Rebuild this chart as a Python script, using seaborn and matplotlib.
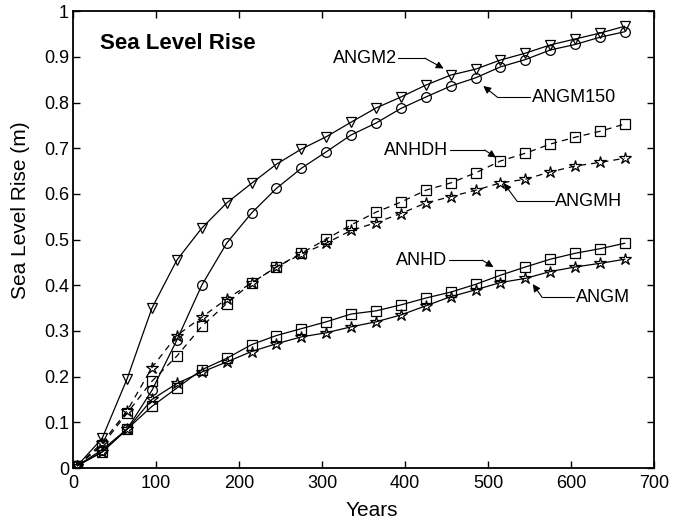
import matplotlib
matplotlib.use("Agg")
import matplotlib.pyplot as plt
import seaborn as sns
import numpy as np
import pandas as pd

years = [5, 35, 65, 95, 125, 155, 185, 215, 245, 275, 305, 335, 365, 395,
         425, 455, 485, 515, 545, 575, 605, 635, 665]

angm2 = [0.005, 0.065, 0.195, 0.35, 0.455, 0.525, 0.58, 0.623, 0.665, 0.698, 0.725,
         0.757, 0.788, 0.812, 0.838, 0.86, 0.873, 0.893, 0.908, 0.926, 0.939, 0.952, 0.967]
angm150 = [0.005, 0.04, 0.085, 0.17, 0.28, 0.40, 0.492, 0.558, 0.612, 0.656, 0.692,
           0.729, 0.755, 0.787, 0.812, 0.836, 0.854, 0.878, 0.894, 0.915, 0.927, 0.943, 0.955]
anhdh = [0.005, 0.05, 0.12, 0.19, 0.245, 0.31, 0.36, 0.405, 0.44, 0.47, 0.501,
         0.532, 0.56, 0.582, 0.608, 0.624, 0.646, 0.672, 0.689, 0.709, 0.724, 0.737, 0.753]
angmh = [0.005, 0.055, 0.125, 0.22, 0.29, 0.33, 0.37, 0.405, 0.44, 0.468, 0.492,
         0.52, 0.537, 0.557, 0.58, 0.594, 0.608, 0.624, 0.632, 0.648, 0.661, 0.669, 0.678]
anhd = [0.005, 0.035, 0.085, 0.135, 0.175, 0.215, 0.24, 0.27, 0.29, 0.305, 0.32,
        0.337, 0.344, 0.357, 0.372, 0.385, 0.402, 0.422, 0.44, 0.457, 0.47, 0.48, 0.492]
angm = [0.005, 0.035, 0.085, 0.15, 0.185, 0.21, 0.232, 0.255, 0.272, 0.287, 0.296,
        0.309, 0.32, 0.335, 0.355, 0.375, 0.39, 0.406, 0.415, 0.43, 0.44, 0.448, 0.457]

series = [
    ("ANGM2", angm2, "v", "-"),
    ("ANGM150", angm150, "o", "-"),
    ("ANHDH", anhdh, "s", (0, (5, 4))),
    ("ANGMH", angmh, "*", (0, (5, 4))),
    ("ANHD", anhd, "s", "-"),
    ("ANGM", angm, "*", "-"),
]

sns.set_style("ticks")
plt.rcParams["font.family"] = ["Liberation Sans", "DejaVu Sans"]
plt.rcParams["text.color"] = "black"
plt.rcParams["axes.labelcolor"] = "black"
plt.rcParams["xtick.color"] = "black"
plt.rcParams["ytick.color"] = "black"

fig = plt.figure(figsize=(6.77, 5.18), dpi=100)
ax = fig.add_axes([0.108, 0.0965, 0.858, 0.882])

for name, vals, mk, ls in series:
    ms = 9 if mk == "*" else 7
    sns.lineplot(x=years, y=vals, ax=ax, color="black", linewidth=0.9,
                 linestyle=ls, marker=mk, markersize=ms, markerfacecolor="none",
                 markeredgecolor="black", markeredgewidth=0.9)

ax.set_xlim(0, 700)
ax.set_ylim(0, 1)
ax.set_xticks(np.arange(0, 701, 100))
ax.set_yticks(np.arange(0, 1.01, 0.1))
ax.set_yticklabels(["0", "0.1", "0.2", "0.3", "0.4", "0.5", "0.6", "0.7", "0.8", "0.9", "1"])
ax.tick_params(direction="in", top=True, right=True, labelsize=13, length=5, width=1,
               colors="black")
ax.tick_params(axis="x", pad=5)
ax.tick_params(axis="y", pad=3)
for s in ax.spines.values():
    s.set_linewidth(1.3)
    s.set_color("black")
ax.set_xlabel("Years", fontsize=15, va="center", color="black")
ax.set_ylabel("Sea Level Rise (m)", fontsize=15, va="center", color="black")
ax.xaxis.set_label_coords(0.515, -0.092)
ax.yaxis.set_label_coords(-0.091, 0.565)

ax.text(33, 0.93, "Sea Level Rise", fontsize=16, fontweight="bold", ha="left",
        va="center", color="black")

arrow = dict(arrowstyle="-|>", color="black", lw=0.8, shrinkA=0, shrinkB=1,
             mutation_scale=11)

def label(text, tip, corner, textx, y, ha):
    ax.text(textx, y, text, ha=ha, va="center", fontsize=13, color="black")
    start = textx + (2 if ha == "right" else -2)
    ax.plot([start, corner], [y, y], color="black", lw=0.8)
    ax.annotate("", xy=tip, xytext=(corner, y), arrowprops=arrow)

label("ANGM2", (448, 0.873), 424, 390, 0.897, "right")
label("ANGM150", (493, 0.838), 511, 553, 0.812, "left")
label("ANHDH", (511, 0.678), 496, 452, 0.696, "right")
label("ANGMH", (518, 0.626), 535, 581, 0.584, "left")
label("ANHD", (508, 0.438), 493, 451, 0.455, "right")
label("ANGM", (553, 0.405), 565, 606, 0.374, "left")

fig.savefig("out.png", dpi=100)
